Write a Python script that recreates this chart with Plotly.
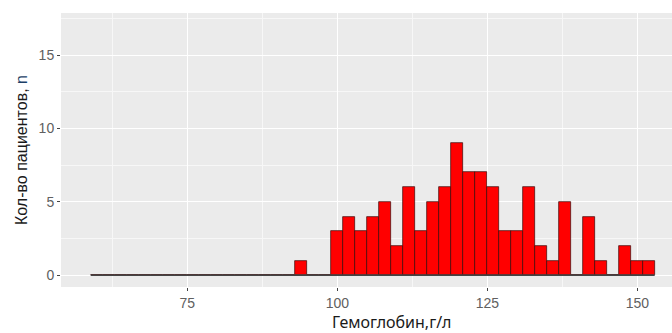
import plotly.graph_objects as go

# Histogram bins (width 2, g/L) and patient counts
bin_start = 58.9
bin_width = 2.0
counts = [0, 0, 0, 0, 0, 0, 0, 0, 0, 0, 0, 0, 0, 0, 0, 0, 0, 1, 0, 0,
          3, 4, 3, 4, 5, 2, 6, 3, 5, 6, 9, 7, 7, 6, 3, 3, 6, 2, 1, 5,
          0, 4, 1, 0, 2, 1, 1]
x_ticks = [75, 100, 125, 150]
y_ticks = [0, 5, 10, 15]

edges = [bin_start + i * bin_width for i in range(len(counts) + 1)]
centers = [(edges[i] + edges[i + 1]) / 2 for i in range(len(counts))]

W, H = 672, 333
ml, mr, mt, mb = 61, 0, 13, 46

fig = go.Figure()
# outline of zero-count bins (ggplot draws them as a flat line)
fig.add_trace(go.Scatter(x=[edges[0], edges[-1]], y=[0, 0], mode="lines",
                         line=dict(color="#444444", width=1.5),
                         hoverinfo="skip", showlegend=False))
fig.add_trace(go.Bar(x=centers, y=counts, width=bin_width,
                     marker=dict(color="#FF0000", line=dict(color="#3a0808", width=0.7)),
                     showlegend=False))

x0 = 100 - (337.3 - ml) / 6.0
x1 = x0 + (W - ml - mr) / 6.0
fig.update_layout(
    width=W, height=H,
    margin=dict(l=ml, r=mr, t=mt, b=mb),
    paper_bgcolor="white", plot_bgcolor="#EBEBEB",
    font=dict(family="Liberation Sans, Arial, sans-serif", color="#555555", size=14),
    bargap=0,
)
fig.update_xaxes(range=[x0, x1], tickvals=x_ticks, ticks="outside", ticklen=3,
                 tickcolor="#444", tickwidth=1, showgrid=True, gridcolor="white", gridwidth=1.3,
                 zeroline=False, showline=False, automargin=False,
                 minor=dict(tickvals=[62.5, 87.5, 112.5, 137.5], showgrid=True,
                            gridcolor="#F7F7F7", gridwidth=0.6, ticks=""),
                 tickfont=dict(size=14, color="#606060"))
fig.update_yaxes(range=[-0.8, 17.86], tickvals=y_ticks, ticks="outside", ticklen=3,
                 tickcolor="#444", tickwidth=1, showgrid=True, gridcolor="white", gridwidth=1.3,
                 zeroline=False, showline=False, automargin=False,
                 minor=dict(tickvals=[2.5, 7.5, 12.5, 17.5], showgrid=True,
                            gridcolor="#F7F7F7", gridwidth=0.6, ticks=""),
                 tickfont=dict(size=14, color="#606060"))

fig.add_annotation(text="Гемоглобин,г/л", xref="paper", yref="paper",
                   x=(392 - ml) / (W - ml - mr), y=-(322 - (H - mb)) / (H - mt - mb),
                   showarrow=False, xanchor="center", yanchor="middle",
                   font=dict(family="Noto Sans, sans-serif", size=16, color="#1a1a1a"))
fig.add_annotation(text="Кол-во пациентов, <span style='color:#1c3f66'>n</span>",
                   xref="paper", yref="paper", textangle=-90,
                   x=-(ml - 21) / (W - ml - mr), y=0.5,
                   showarrow=False, xanchor="center", yanchor="middle",
                   font=dict(family="Liberation Sans, Arial, sans-serif", size=16, color="#1a1a1a"))

fig.write_html("out.html", config={"displayModeBar": False},
               post_script="document.body.style.margin='0';")
